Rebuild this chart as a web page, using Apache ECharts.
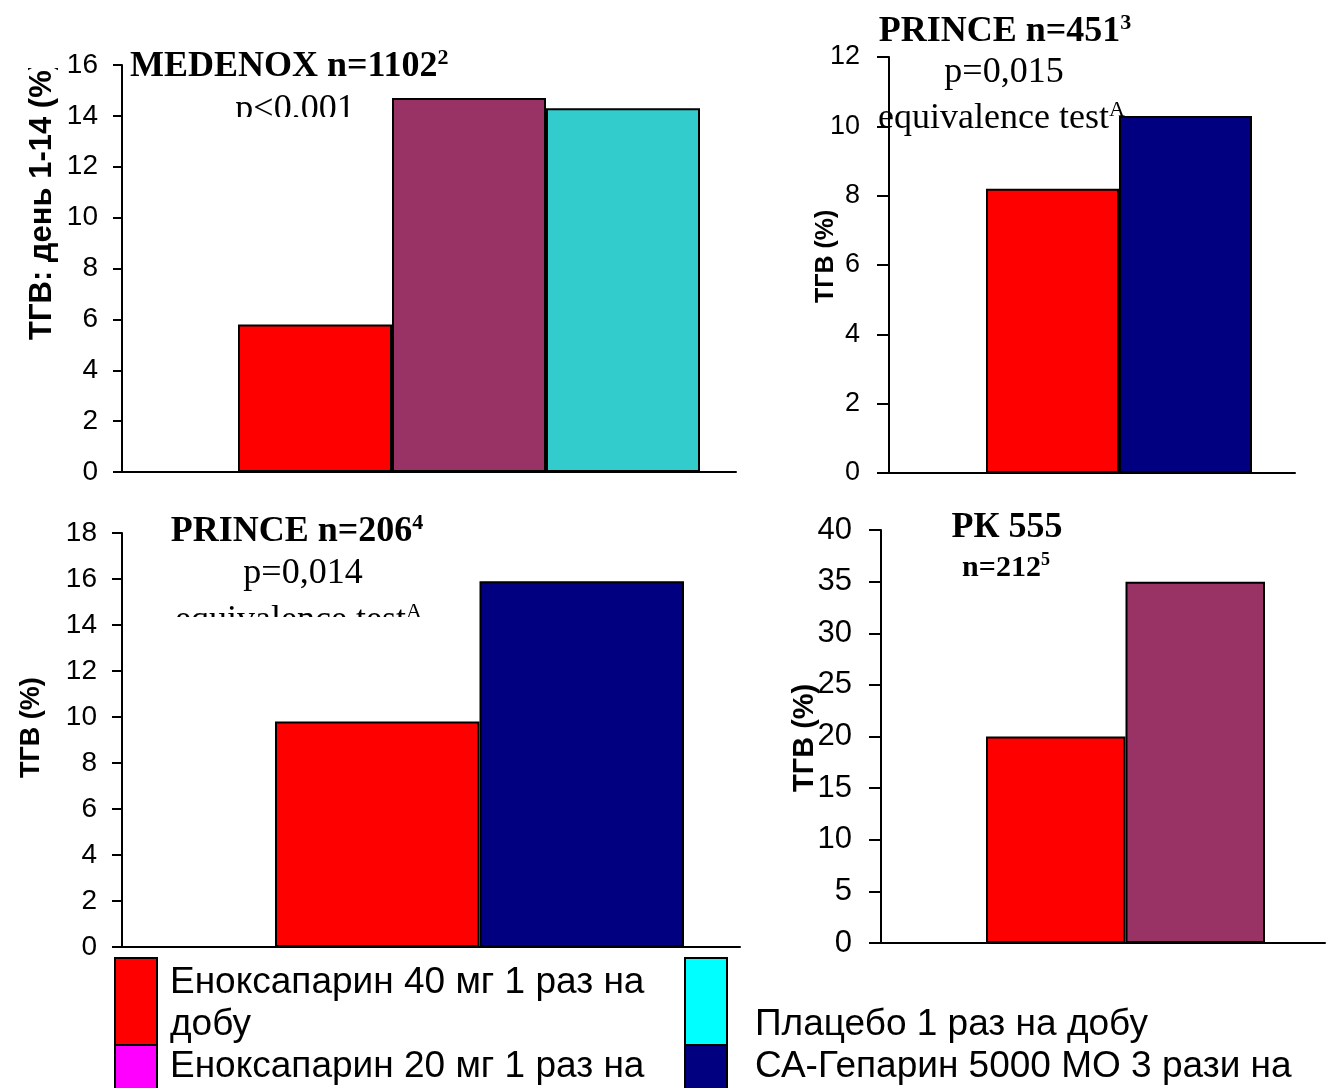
<!DOCTYPE html>
<html><head><meta charset="utf-8">
<script src="https://cdn.jsdelivr.net/npm/echarts@6/dist/echarts.min.js"></script>
<style>html,body{margin:0;padding:0;background:#fff}#c{width:1333px;height:1088px}</style>
</head><body><div id="c"></div>
<script>
// ---------------- data ----------------
const medenoxArms = ['Еноксапарин 40 мг', 'Еноксапарин 20 мг', 'Плацебо'];
const medenoxValues = [5.8, 14.7, 14.3];
const prince451Arms = ['Еноксапарин 40 мг', 'СА-Гепарин 5000 МО'];
const prince451Values = [8.2, 10.3];
const prince206Arms = ['Еноксапарин 40 мг', 'СА-Гепарин 5000 МО'];
const prince206Values = [9.8, 15.9];
const pk555Arms = ['Еноксапарин 40 мг', 'Контроль'];
const pk555Values = [20, 35];

const yMaxes = [16, 12, 18, 40];
const yIntervals = [2, 2, 2, 5];
const yNames = ['ТГВ: день 1-14 (%)', 'ТГВ (%)', 'ТГВ (%)', 'ТГВ (%)'];
const studyTitles = ['MEDENOX n=1102', 'PRINCE n=451', 'PRINCE n=206', 'РК 555'];
const studyRefs = ['2', '3', '4', ''];
const pk555N = 'n=212';
const pk555Ref = '5';
const pValues = ['p<0,001', 'p=0,015', 'p=0,014'];
const equivText = 'equivalence test';
const equivRef = 'A';
const legendLabels = ['Еноксапарин 40 мг 1 раз на добу', 'Еноксапарин 20 мг 1 раз на добу',
                      'Плацебо 1 раз на добу', 'СА-Гепарин 5000 МО 3 рази на добу'];

// ---------------- styles / layout ----------------
const RED = '#FF0000', PURPLE = '#993366', TEAL = '#33CCCC', NAVY = '#000080';
const SANS = "'Liberation Sans', Arial, sans-serif";
const SERIF = "'Liberation Serif', 'Times New Roman', serif";

const panels = [
  {arms: medenoxArms, values: medenoxValues, colors: [RED, PURPLE, TEAL],
   axisX: 122, top: 65, zero: 472, xEnd: 736, barL: 238, barR: 700, fs: 28, margin: 24, tick: 9},
  {arms: prince451Arms, values: prince451Values, colors: [RED, NAVY],
   axisX: 889, top: 57, zero: 473, xEnd: 1295, barL: 986, barR: 1252, fs: 27, margin: 29, tick: 12},
  {arms: prince206Arms, values: prince206Values, colors: [RED, NAVY],
   axisX: 122, top: 533, zero: 947, xEnd: 740, barL: 275, barR: 684, fs: 28, margin: 25, tick: 10},
  {arms: pk555Arms, values: pk555Values, colors: [RED, PURPLE],
   axisX: 881, top: 530, zero: 943, xEnd: 1325, barL: 986, barR: 1265, fs: 31, margin: 29, tick: 12}
];

const grid = [], xAxis = [], yAxis = [], series = [];
panels.forEach((p, i) => {
  const h = p.zero - p.top;
  grid.push({left: p.axisX, top: p.top, width: p.xEnd - p.axisX, height: h, outerBoundsMode: 'none', containLabel: false});
  grid.push({left: p.barL, top: p.top, width: p.barR - p.barL, height: h, outerBoundsMode: 'none', containLabel: false});
  xAxis.push({gridIndex: 2 * i, type: 'category', data: [''],
    axisLine: {show: true, lineStyle: {color: '#000', width: 2}},
    axisTick: {show: false}, axisLabel: {show: false}});
  xAxis.push({gridIndex: 2 * i + 1, type: 'category', data: p.arms, show: false});
  yAxis.push({gridIndex: 2 * i, type: 'value', min: 0, max: yMaxes[i], interval: yIntervals[i],
    axisLine: {show: true, lineStyle: {color: '#000', width: 2}},
    axisTick: {show: true, length: p.tick, lineStyle: {color: '#000', width: 2}},
    axisLabel: {color: '#000', fontSize: p.fs, fontFamily: SANS, margin: p.margin},
    splitLine: {show: false}});
  yAxis.push({gridIndex: 2 * i + 1, type: 'value', min: 0, max: yMaxes[i], show: false, splitLine: {show: false}});
  series.push({type: 'bar', xAxisIndex: 2 * i + 1, yAxisIndex: 2 * i + 1,
    barCategoryGap: '0%', barGap: '0%',
    data: p.values.map((v, j) => ({value: v, itemStyle: {color: p.colors[j]}})),
    itemStyle: {borderColor: '#000', borderWidth: 2}, z: 5});
});

function titleText(x, y, main, ref, size, align, weight) {
  return {type: 'text', x: x, y: y, z: 1,
    style: {text: '{t|' + main + '}' + (ref ? '{s|' + ref + '}' : ''),
      align: align, verticalAlign: 'middle',
      rich: {
        t: {fontSize: size, fontWeight: weight, fontFamily: SERIF, fill: '#000', lineHeight: size * 1.1},
        s: {fontSize: Math.round(size * 0.6), fontWeight: weight, fontFamily: SERIF, fill: '#000', verticalAlign: 'top'}
      }}};
}
function plainText(x, y, text, size, align) {
  return {type: 'text', x: x, y: y, z: 1,
    style: {text: text, fontSize: size, fontFamily: SERIF, fill: '#000', align: align, verticalAlign: 'middle'}};
}
function yName(x, y, text, size) {
  return {type: 'text', x: x, y: y, rotation: Math.PI / 2, z: 1,
    style: {text: text, fontSize: size, fontWeight: 'bold', fontFamily: SANS, fill: '#000', align: 'left', verticalAlign: 'middle'}};
}
function cover(x, y, w, h) {
  return {type: 'rect', z: 3, shape: {x: x, y: y, width: w, height: h}, style: {fill: '#fff'}};
}
// legend label laid out on two lines: last word goes to the second line
function twoLines(label) {
  const i = label.lastIndexOf(' ');
  return label.slice(0, i) + '\n' + label.slice(i + 1);
}

const legendColors = [RED, '#FF00FF', '#00FFFF', NAVY];
const legendBoxes = [[115, 958], [115, 1045], [685, 958], [685, 1045]];
const legendTextPos = [[170, 983], [170, 1067], [755, 1025], [755, 1067]];
const legendWrap = [true, true, false, true];

const graphic = [
  titleText(130, 67, studyTitles[0], studyRefs[0], 36, 'left', 'bold'),
  plainText(295, 110, pValues[0], 36, 'center'),
  cover(220, 117, 150, 22),
  titleText(1005, 32, studyTitles[1], studyRefs[1], 36, 'center', 'bold'),
  plainText(1004, 73, pValues[1], 36, 'center'),
  titleText(878, 119, equivText, equivRef, 36, 'left', 'normal'),
  titleText(297, 532, studyTitles[2], studyRefs[2], 36, 'center', 'bold'),
  plainText(303, 574, pValues[2], 36, 'center'),
  titleText(175, 621, equivText, equivRef, 36, 'left', 'normal'),
  cover(165, 617, 260, 30),
  titleText(1007, 528, studyTitles[3], studyRefs[3], 36, 'center', 'bold'),
  titleText(1006, 568, pk555N, pk555Ref, 30, 'center', 'bold'),
  yName(42, 340, yNames[0], 31),
  cover(18, 0, 44, 68),
  yName(826, 303, yNames[1], 25),
  yName(32, 778, yNames[2], 27),
  yName(805, 792, yNames[3], 29)
];
legendLabels.forEach((lab, k) => {
  graphic.push({type: 'rect', z: 1, shape: {x: legendBoxes[k][0], y: legendBoxes[k][1], width: 42, height: 87},
    style: {fill: legendColors[k], stroke: '#000', lineWidth: 2}});
  graphic.push({type: 'text', z: 1, x: legendTextPos[k][0], y: legendTextPos[k][1] - 21,
    style: {text: legendWrap[k] ? twoLines(lab) : lab, fontSize: 37, fontFamily: SANS, fill: '#000', lineHeight: 42,
      align: 'left', verticalAlign: 'top'}});
});

const chart = echarts.init(document.getElementById('c'), null, {renderer: 'canvas'});
chart.setOption({
  animation: false,
  backgroundColor: '#fff',
  textStyle: {fontFamily: SANS},
  grid: grid, xAxis: xAxis, yAxis: yAxis, series: series,
  graphic: graphic
});
</script></body></html>
